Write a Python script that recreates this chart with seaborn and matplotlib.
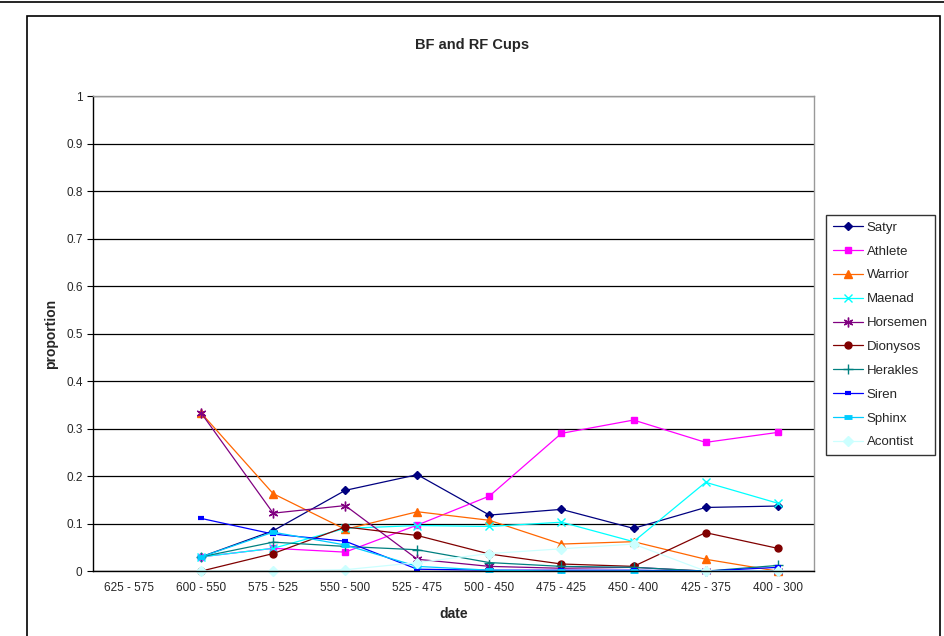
import numpy as np
import matplotlib
matplotlib.use("Agg")
import matplotlib.pyplot as plt
from matplotlib.patches import Rectangle
from matplotlib.lines import Line2D
import seaborn as sns

nan = np.nan
dates = ['625 - 575', '600 - 550', '575 - 525', '550 - 500', '525 - 475',
         '500 - 450', '475 - 425', '450 - 400', '425 - 375', '400 - 300']

satyr = [nan, 0.03, 0.085, 0.17, 0.203, 0.118, 0.13, 0.09, 0.134, 0.137]
athlete = [nan, 0.03, 0.048, 0.04, 0.097, 0.158, 0.29, 0.318, 0.271, 0.292]
warrior = [nan, 0.333, 0.163, 0.088, 0.125, 0.107, 0.057, 0.062, 0.025, 0.0]
maenad = [nan, 0.03, 0.048, 0.09, 0.096, 0.094, 0.103, 0.062, 0.187, 0.143]
horsemen = [nan, 0.333, 0.122, 0.138, 0.025, 0.01, 0.006, 0.008, 0.0, 0.0]
dionysos = [nan, 0.0, 0.037, 0.093, 0.075, 0.036, 0.015, 0.01, 0.081, 0.048]
herakles = [nan, 0.03, 0.061, 0.052, 0.045, 0.018, 0.01, 0.008, 0.0, 0.012]
siren = [nan, 0.111, 0.078, 0.063, 0.004, 0.002, 0.002, 0.002, 0.0, 0.008]
sphinx = [nan, 0.03, 0.082, 0.055, 0.01, 0.002, 0.0, 0.0, 0.0, 0.0]
acontist = [nan, 0.0, 0.0, 0.003, 0.018, 0.037, 0.047, 0.057, 0.0, 0.0]

series = [
    ('Satyr', satyr, '#000080', 'D', 4.5, 1),
    ('Athlete', athlete, '#FF00FF', 's', 5, 1),
    ('Warrior', warrior, '#FF6600', '^', 6, 1),
    ('Maenad', maenad, '#00FFFF', 'x', 6, 1),
    ('Horsemen', horsemen, '#800080', (6, 2, 0), 7, 1),
    ('Dionysos', dionysos, '#800000', 'o', 5, 1),
    ('Herakles', herakles, '#008080', '+', 7, 1),
    ('Siren', siren, '#0000FF', '_', 4, 3),
    ('Sphinx', sphinx, '#00CCFF', '_', 6, 3.5),
    ('Acontist', acontist, '#CCFFFF', 'D', 5, 1),
]

sns.set_style("white")
plt.rcParams['font.family'] = ['Liberation Sans', 'DejaVu Sans']

fig = plt.figure(figsize=(9.44, 6.36), dpi=100)
ax = fig.add_axes([0.0985, 0.102, 0.7635, 0.747])

x = np.arange(len(dates))
handles = []
for name, vals, color, marker, ms, mew in series:
    sns.lineplot(x=x, y=vals, ax=ax, color=color, linewidth=0.9,
                 marker=marker, markersize=ms, markeredgewidth=mew,
                 markeredgecolor=color, markerfacecolor=color, clip_on=False)
    handles.append(Line2D([0], [0], color=color, linewidth=0.9, marker=marker,
                          markersize=ms, markeredgewidth=mew,
                          markeredgecolor=color, markerfacecolor=color,
                          label=name))

ax.set_xlim(-0.5, len(dates) - 0.5)
ax.set_ylim(0, 1)
ax.set_yticks(np.arange(0, 1.01, 0.1))
ax.set_yticklabels(['0', '0.1', '0.2', '0.3', '0.4', '0.5', '0.6', '0.7', '0.8', '0.9', '1'])
ax.set_xticks(x)
ax.set_xticklabels(dates)
ax.set_xticks(np.arange(-0.5, len(dates), 1), minor=True)
ax.tick_params(axis='x', which='major', length=0, pad=8, labelsize=8.5)
ax.tick_params(axis='x', which='minor', length=4, direction='out', width=0.8, color='black')
ax.tick_params(axis='y', length=4, direction='out', width=0.8, color='black',
               labelsize=8.5, left=True)
ax.yaxis.grid(True, color='black', linewidth=0.9)
ax.set_axisbelow(True)

for side in ['top', 'right']:
    ax.spines[side].set_color('#999999')
    ax.spines[side].set_linewidth(1)
for side in ['left', 'bottom']:
    ax.spines[side].set_color('black')
    ax.spines[side].set_linewidth(1)

ax.set_xlabel('date', fontsize=10, fontweight='bold', labelpad=9)
ax.set_ylabel('proportion', fontsize=10, fontweight='bold', labelpad=6)
fig.text(0.5, 1 - 45 / 636, 'BF and RF Cups', ha='center', va='center',
         fontsize=10.5, fontweight='bold')

leg = fig.legend(handles=handles, loc='center left',
                 bbox_to_anchor=(826 / 944, 1 - 335 / 636), frameon=True,
                 fancybox=False, edgecolor='black', fontsize=9.5,
                 labelspacing=0.88, handlelength=2.3, handletextpad=0.3,
                 borderpad=0.5, borderaxespad=0)
leg.get_frame().set_linewidth(1)

fig.add_artist(Rectangle((27 / 944, -0.05), (940 - 27) / 944, 0.05 + 1 - 16 / 636,
                         transform=fig.transFigure, fill=False,
                         edgecolor='black', linewidth=1.2))
fig.add_artist(Line2D([0, 1], [1 - 2 / 636, 1 - 2 / 636],
                      transform=fig.transFigure, color='black', linewidth=1.2))

fig.savefig('out.png', dpi=100, facecolor='white')
